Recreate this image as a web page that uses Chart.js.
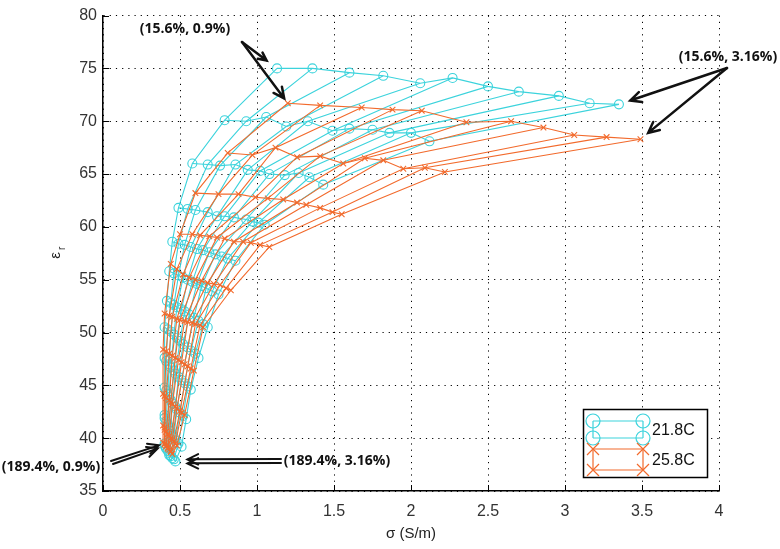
<!DOCTYPE html>
<html>
<head>
<meta charset="utf-8">
<script src="https://cdn.jsdelivr.net/npm/chart.js@4.4.1/dist/chart.umd.min.js"></script>
<style>
  html, body { margin: 0; padding: 0; background: #fff; }
  #wrap { width: 780px; height: 549px; }
</style>
</head>
<body>
<div id="wrap"><canvas id="meshChart" width="780" height="549"></canvas></div>
<script>
// axis ticks
const xTicks = [0, 0.5, 1, 1.5, 2, 2.5, 3, 3.5, 4];
const yTicks = [35, 40, 45, 50, 55, 60, 65, 70, 75, 80];

// 21.8C mesh: one row per water content (15.6% .. 189.4%),
// one column per salinity (0.9% .. 3.16%)
const cyanSigma = [
    [1.13, 1.36, 1.60, 1.82, 2.06, 2.27, 2.50, 2.70, 2.96, 3.16, 3.35],
    [0.79, 0.93, 1.06, 1.19, 1.33, 1.49, 1.60, 1.75, 1.86, 2.00, 2.12],
    [0.58, 0.68, 0.76, 0.86, 0.94, 1.02, 1.08, 1.18, 1.27, 1.34, 1.43],
    [0.49, 0.55, 0.60, 0.68, 0.74, 0.79, 0.85, 0.93, 0.97, 1.01, 1.05],
    [0.45, 0.49, 0.53, 0.57, 0.61, 0.65, 0.69, 0.73, 0.77, 0.81, 0.86],
    [0.43, 0.46, 0.49, 0.52, 0.55, 0.58, 0.61, 0.64, 0.67, 0.71, 0.75],
    [0.415, 0.44, 0.46, 0.48, 0.51, 0.53, 0.56, 0.59, 0.62, 0.65, 0.68],
    [0.40, 0.42, 0.44, 0.46, 0.48, 0.50, 0.52, 0.55, 0.57, 0.60, 0.62],
    [0.40, 0.41, 0.43, 0.44, 0.46, 0.47, 0.49, 0.51, 0.53, 0.55, 0.57],
    [0.40, 0.41, 0.42, 0.43, 0.44, 0.45, 0.47, 0.48, 0.50, 0.52, 0.54],
    [0.40, 0.40, 0.41, 0.42, 0.43, 0.44, 0.45, 0.46, 0.47, 0.49, 0.51],
    [0.40, 0.40, 0.41, 0.41, 0.42, 0.43, 0.43, 0.44, 0.45, 0.46, 0.47]
];
const cyanEps = [
    [75.0, 75.0, 74.6, 74.3, 73.6, 74.1, 73.3, 72.8, 72.4, 71.7, 71.6],
    [70.1, 70.0, 70.4, 69.5, 70.0, 69.1, 69.3, 69.2, 68.9, 68.9, 68.1],
    [66.0, 65.9, 65.8, 65.9, 65.4, 65.3, 65.0, 64.9, 65.1, 64.7, 64.0],
    [61.8, 61.7, 61.6, 61.4, 61.0, 61.0, 60.9, 60.7, 60.5, 60.4, 60.2],
    [58.6, 58.4, 58.3, 58.1, 57.9, 57.8, 57.6, 57.4, 57.2, 57.0, 56.8],
    [55.8, 55.6, 55.4, 55.2, 55.0, 54.8, 54.6, 54.4, 54.2, 53.9, 53.6],
    [53.0, 52.8, 52.6, 52.4, 52.2, 52.0, 51.7, 51.4, 51.1, 50.8, 50.5],
    [50.5, 50.3, 50.1, 49.8, 49.5, 49.2, 48.9, 48.6, 48.3, 48.0, 47.6],
    [47.6, 47.3, 47.0, 46.7, 46.4, 46.1, 45.8, 45.5, 45.2, 44.9, 44.6],
    [44.8, 44.5, 44.2, 43.9, 43.6, 43.3, 43.0, 42.7, 42.4, 42.1, 41.8],
    [42.2, 41.9, 41.6, 41.3, 41.0, 40.7, 40.4, 40.1, 39.8, 39.5, 39.2],
    [39.5, 39.3, 39.1, 39.0, 38.8, 38.6, 38.4, 38.3, 38.1, 38.0, 37.8]
];

// 25.8C mesh, same layout
const orangeSigma = [
    [1.20, 1.41, 1.68, 1.88, 2.07, 2.36, 2.65, 2.86, 3.06, 3.27, 3.49],
    [0.81, 0.97, 1.12, 1.26, 1.41, 1.56, 1.70, 1.82, 1.95, 2.09, 2.22],
    [0.60, 0.75, 0.88, 0.99, 1.07, 1.17, 1.26, 1.32, 1.41, 1.49, 1.55],
    [0.50, 0.58, 0.63, 0.69, 0.74, 0.79, 0.85, 0.91, 0.96, 1.02, 1.08],
    [0.44, 0.48, 0.52, 0.56, 0.60, 0.64, 0.68, 0.72, 0.76, 0.80, 0.83],
    [0.40, 0.43, 0.45, 0.48, 0.50, 0.53, 0.55, 0.58, 0.60, 0.63, 0.65],
    [0.39, 0.41, 0.43, 0.45, 0.47, 0.49, 0.51, 0.53, 0.55, 0.57, 0.59],
    [0.39, 0.40, 0.41, 0.43, 0.44, 0.45, 0.47, 0.48, 0.50, 0.51, 0.53],
    [0.39, 0.40, 0.40, 0.41, 0.42, 0.43, 0.44, 0.45, 0.46, 0.47, 0.48],
    [0.39, 0.40, 0.40, 0.41, 0.41, 0.42, 0.42, 0.43, 0.44, 0.44, 0.45]
];
const orangeEps = [
    [71.7, 71.5, 71.3, 71.1, 71.0, 69.9, 70.0, 69.4, 68.7, 68.5, 68.3],
    [67.0, 66.8, 67.5, 66.6, 66.7, 66.0, 66.5, 66.3, 65.5, 65.6, 65.2],
    [63.2, 63.1, 63.1, 62.8, 62.7, 62.6, 62.3, 62.1, 61.8, 61.4, 61.2],
    [59.3, 59.3, 59.2, 59.1, 59.0, 58.9, 58.6, 58.6, 58.5, 58.3, 58.1],
    [56.5, 56.0, 55.5, 55.2, 55.0, 54.9, 54.7, 54.6, 54.5, 54.2, 54.0],
    [51.8, 51.6, 51.5, 51.3, 51.2, 51.1, 51.0, 50.9, 50.8, 50.7, 50.5],
    [48.4, 48.2, 48.0, 47.8, 47.6, 47.4, 47.2, 47.0, 46.8, 46.6, 46.4],
    [44.2, 44.0, 43.8, 43.6, 43.4, 43.2, 43.0, 42.8, 42.6, 42.4, 42.2],
    [41.2, 41.0, 40.8, 40.6, 40.4, 40.2, 40.0, 39.9, 39.7, 39.5, 39.3],
    [39.6, 39.5, 39.4, 39.3, 39.2, 39.1, 39.0, 38.9, 38.8, 38.7, 38.5]
];

const seriesNames = ['21.8C', '25.8C'];
const CYAN = '#3cd3dc';
const ORANGE = '#f26a2c';

// build row lines (with markers) and column lines (no markers) for one mesh
function meshDatasets(sig, eps, color, style, order) {
    const sets = [];
    sig.forEach((row, r) => {
        sets.push({
            data: row.map((s, j) => ({x: s, y: eps[r][j]})),
            showLine: true,
            borderColor: color,
            borderWidth: 1.1,
            pointStyle: style,
            pointRadius: style === 'circle' ? 4.5 : 4,
            pointBorderColor: color,
            pointBackgroundColor: 'rgba(0,0,0,0)',
            pointBorderWidth: 1.1,
            order: order
        });
    });
    for (let j = 0; j < sig[0].length; j++) {
        sets.push({
            data: sig.map((row, r) => ({x: row[j], y: eps[r][j]})),
            showLine: true,
            borderColor: color,
            borderWidth: 1.1,
            pointRadius: 0,
            order: order
        });
    }
    return sets;
}

function arrow(ctx, x1, y1, x2, y2, head) {
    const a = Math.atan2(y2 - y1, x2 - x1);
    ctx.beginPath();
    ctx.moveTo(x1, y1);
    ctx.lineTo(x2, y2);
    ctx.moveTo(x2 - head * Math.cos(a - 0.45), y2 - head * Math.sin(a - 0.45));
    ctx.lineTo(x2, y2);
    ctx.lineTo(x2 - head * Math.cos(a + 0.45), y2 - head * Math.sin(a + 0.45));
    ctx.stroke();
}

// toward a point, stopping short by gap pixels
function toward(x1, y1, x2, y2, gap) {
    const d = Math.hypot(x2 - x1, y2 - y1);
    return [x2 - (x2 - x1) * gap / d, y2 - (y2 - y1) * gap / d];
}

const overlay = {
    id: 'overlay',
    afterDraw(chart) {
        const {ctx, scales: {x, y}} = chart;
        ctx.save();

        // inward tick marks
        ctx.strokeStyle = '#000';
        ctx.lineWidth = 1;
        ctx.beginPath();
        xTicks.forEach(v => {
            const px = Math.round(x.getPixelForValue(v)) + 0.5;
            ctx.moveTo(px, y.bottom); ctx.lineTo(px, y.bottom - 6);
        });
        yTicks.forEach(v => {
            const py = Math.round(y.getPixelForValue(v)) + 0.5;
            ctx.moveTo(x.left, py); ctx.lineTo(x.left + 6, py);
        });
        ctx.stroke();

        // axis titles
        ctx.fillStyle = '#222';
        ctx.font = '15px "Liberation Sans Narrow", "Liberation Sans", Arial, sans-serif';
        ctx.textAlign = 'center';
        ctx.textBaseline = 'middle';
        ctx.fillText('σ (S/m)', (x.left + x.right) / 2, 534);
        ctx.save();
        ctx.translate(56, (y.top + y.bottom) / 2);
        ctx.rotate(-Math.PI / 2);
        ctx.font = '15px "Liberation Sans", Arial, sans-serif';
        ctx.fillText('ε', -2, 0);
        ctx.font = '10px "Liberation Sans", Arial, sans-serif';
        ctx.fillText('r', 5, 6);
        ctx.restore();

        // legend box
        const lx = 583, ly = 409, lw = 124, lh = 68;
        ctx.fillStyle = '#fff';
        ctx.fillRect(lx, ly, lw, lh);
        ctx.strokeStyle = '#000';
        ctx.lineWidth = 1.5;
        ctx.strokeRect(lx + 0.5, ly + 0.5, lw, lh);
        const entries = [
            {name: seriesNames[0], color: CYAN, y1: 421, y2: 438, mark: 'circle'},
            {name: seriesNames[1], color: ORANGE, y1: 449, y2: 470, mark: 'x'}
        ];
        entries.forEach(e => {
            ctx.strokeStyle = e.color;
            ctx.lineWidth = 1.2;
            ctx.beginPath();
            ctx.moveTo(593, e.y1); ctx.lineTo(643, e.y1);
            ctx.moveTo(593, e.y2); ctx.lineTo(643, e.y2);
            ctx.moveTo(593, e.y1); ctx.lineTo(593, e.y2);
            ctx.moveTo(643, e.y1); ctx.lineTo(643, e.y2);
            ctx.stroke();
            [[593, e.y1], [643, e.y1], [593, e.y2], [643, e.y2]].forEach(([px, py]) => {
                ctx.beginPath();
                if (e.mark === 'circle') {
                    ctx.arc(px, py, 7, 0, Math.PI * 2);
                } else {
                    ctx.moveTo(px - 6, py - 6); ctx.lineTo(px + 6, py + 6);
                    ctx.moveTo(px + 6, py - 6); ctx.lineTo(px - 6, py + 6);
                }
                ctx.stroke();
            });
            ctx.fillStyle = '#111';
            ctx.font = '16px "Liberation Sans", Arial, sans-serif';
            ctx.textAlign = 'left';
            ctx.fillText(e.name, 652, (e.y1 + e.y2) / 2 + 1);
        });

        // annotations
        ctx.fillStyle = '#111';
        ctx.strokeStyle = '#111';
        ctx.font = 'bold 14px "Open Sans", Lato, sans-serif';
        ctx.textAlign = 'center';
        ctx.fillText('(15.6%, 0.9%)', 185, 29);
        ctx.fillText('(15.6%, 3.16%)', 728, 57);
        ctx.fillText('(189.4%, 0.9%)', 51, 467);
        ctx.fillText('(189.4%, 3.16%)', 337, 461);

        ctx.lineWidth = 2.5;
        ctx.lineCap = 'round';
        const px = (s) => x.getPixelForValue(s);
        const py = (e) => y.getPixelForValue(e);
        const last = cyanSigma[0].length - 1;
        const lastRowC = cyanSigma.length - 1;

        // (15.6%, 0.9%)
        let t = toward(242, 42, px(cyanSigma[0][0]), py(cyanEps[0][0]), 13);
        arrow(ctx, 242, 42, t[0], t[1], 9);
        t = toward(242, 42, px(orangeSigma[0][0]), py(orangeEps[0][0]), 6);
        arrow(ctx, 242, 42, t[0], t[1], 12);
        // (15.6%, 3.16%)
        t = toward(727, 68, px(cyanSigma[0][last]), py(cyanEps[0][last]), 12);
        arrow(ctx, 727, 68, t[0], t[1], 12);
        t = toward(727, 68, px(orangeSigma[0][last]), py(orangeEps[0][last]), 10);
        arrow(ctx, 727, 68, t[0], t[1], 12);
        // (189.4%, 0.9%)
        ctx.lineWidth = 2;
        t = toward(111, 461, px(cyanSigma[lastRowC][0]), py(cyanEps[lastRowC][0]), 6);
        arrow(ctx, 111, 461, t[0], t[1], 12);
        arrow(ctx, 113, 464, t[0] - 1, t[1] + 3, 12);
        // (189.4%, 3.16%)
        t = toward(281, 461, px(cyanSigma[lastRowC][last]), py(cyanEps[lastRowC][last]), 12);
        arrow(ctx, 281, 459, t[0], t[1] - 2, 12);
        arrow(ctx, 281, 463, t[0], t[1] + 2, 12);

        ctx.restore();
    }
};

const datasets = [
    ...meshDatasets(orangeSigma, orangeEps, ORANGE, 'crossRot', 0),
    ...meshDatasets(cyanSigma, cyanEps, CYAN, 'circle', 1)
];

const xFont = {family: '"Liberation Sans Narrow", "Liberation Sans", Arial, sans-serif', size: 16};
const yFont = {family: '"Liberation Sans", Arial, sans-serif', size: 16};

const config = {
    type: 'scatter',
    data: {datasets: datasets},
    options: {
        responsive: false,
        animation: false,
        devicePixelRatio: 1,
        layout: {padding: {top: 8, right: 61, left: 0, bottom: 0}},
        plugins: {
            legend: {display: false},
            tooltip: {enabled: false}
        },
        scales: {
            x: {
                type: 'linear',
                min: 0,
                max: 4,
                afterBuildTicks: (s) => { s.ticks = xTicks.map(v => ({value: v})); },
                afterFit: (s) => { s.height = 58; },
                ticks: {color: '#333', font: xFont, padding: 11, maxRotation: 0,
                        callback: (v) => String(v)},
                grid: {color: '#000', lineWidth: 1, drawTicks: false},
                border: {display: true, color: '#000', width: 1.5, dash: [1.2, 5]}
            },
            y: {
                type: 'linear',
                min: 35,
                max: 80,
                afterBuildTicks: (s) => { s.ticks = yTicks.map(v => ({value: v})); },
                afterFit: (s) => { s.width = 103; },
                ticks: {color: '#333', font: yFont, padding: 6,
                        callback: (v) => String(v)},
                grid: {color: '#000', lineWidth: 1, drawTicks: false},
                border: {display: true, color: '#000', width: 1.5, dash: [1.2, 5]}
            }
        }
    },
    plugins: [overlay]
};

const meshChart = new Chart(document.getElementById('meshChart'), config);
</script>
</body>
</html>
